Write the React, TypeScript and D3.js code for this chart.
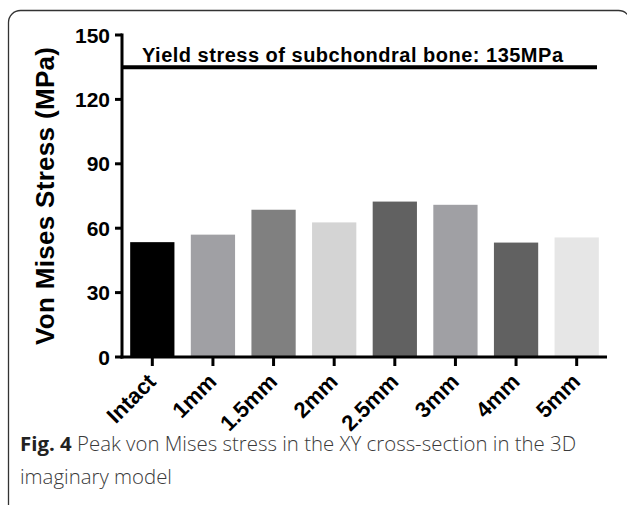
import React from "react";
import * as d3 from "d3";

const categories = ["Intact", "1mm", "1.5mm", "2mm", "2.5mm", "3mm", "4mm", "5mm"];
const values = [53.5, 57.0, 68.6, 62.7, 72.4, 70.9, 53.3, 55.7];
const barColors = ["#000000", "#a0a0a4", "#808080", "#d4d4d4", "#616161", "#a0a0a4", "#616161", "#e6e6e6"];
const yTicks = [0, 30, 60, 90, 120, 150];
const yieldValue = 135;
const yieldLabel = "Yield stress of subchondral bone: 135MPa";
const yTitle = "Von Mises Stress (MPa)";
const captionBold = "Fig. 4";
const captionLine1 = " Peak von Mises stress in the XY cross-section in the 3D";
const captionLine2 = "imaginary model";

const W = 627;
const H = 505;
const FONT = "'Liberation Sans', Arial, Helvetica, sans-serif";
const CAP_FONT = "'Open Sans', 'Noto Sans', sans-serif";

export default function App() {
  const x = d3.scaleBand<string>().domain(categories).range([122, 607]).paddingInner(0.27).paddingOuter(0.135);
  const y = d3.scaleLinear().domain([0, 150]).range([357, 35]);
  const axisX = 122;
  const baseY = y(0);

  return (
    <svg width={W} height={H} style={{ position: "absolute", left: 0, top: 0, background: "#fff" }}>
      <rect x={0} y={0} width={W} height={H} fill="#fff" />
      {/* frame */}
      <rect x={8.5} y={10.5} width={622} height={520} rx={12} ry={12} fill="none" stroke="#333" strokeWidth={1.3} />

      {/* bars */}
      {categories.map((c, i) => (
        <rect key={c} x={x(c)} y={y(values[i])} width={x.bandwidth()} height={baseY - y(values[i])} fill={barColors[i]} />
      ))}

      {/* yield line */}
      <line x1={axisX} x2={597} y1={y(yieldValue)} y2={y(yieldValue)} stroke="#000" strokeWidth={4} />
      <text x={142} y={62} fontFamily={FONT} fontWeight="bold" fontSize={20} textLength={421} lengthAdjust="spacing" fill="#000">
        {yieldLabel}
      </text>

      {/* y axis */}
      <line x1={axisX} x2={axisX} y1={y(150) - 1.5} y2={baseY + 1.5} stroke="#000" strokeWidth={3} />
      {yTicks.map((t) => (
        <g key={t}>
          <line x1={axisX - 7} x2={axisX} y1={y(t)} y2={y(t)} stroke="#000" strokeWidth={3} />
          <text x={110} y={y(t) + 7.5} textAnchor="end" fontFamily={FONT} fontWeight="bold" fontSize={21} fill="#000">
            {t}
          </text>
        </g>
      ))}

      {/* x axis */}
      <line x1={axisX - 1.5} x2={607} y1={baseY} y2={baseY} stroke="#000" strokeWidth={3} />
      {categories.map((c) => {
        const cx = (x(c) as number) + x.bandwidth() / 2;
        return (
          <g key={c}>
            <line x1={cx} x2={cx} y1={baseY} y2={baseY + 9} stroke="#000" strokeWidth={3} />
            <text
              transform={`translate(${cx + 5},${baseY + 26}) rotate(-45)`}
              textAnchor="end"
              fontFamily={FONT}
              fontWeight="bold"
              fontSize={22}
              fill="#000"
            >
              {c}
            </text>
          </g>
        );
      })}

      {/* y title */}
      <text
        transform={`translate(54,196) rotate(-90)`}
        textAnchor="middle"
        fontFamily={FONT}
        fontWeight="bold"
        fontSize={26}
        textLength={298}
        lengthAdjust="spacing"
        fill="#000"
      >
        {yTitle}
      </text>

      {/* caption */}
      <text x={20} y={451} fontFamily={CAP_FONT} fontSize={20.4} fill="#3a3a3a">
        <tspan fontWeight="bold" fill="#222">{captionBold}</tspan>
        <tspan fontWeight={300}>{captionLine1}</tspan>
      </text>
      <text x={20} y={484} fontFamily={CAP_FONT} fontWeight={300} fontSize={20.4} fill="#3a3a3a">
        {captionLine2}
      </text>
    </svg>
  );
}
